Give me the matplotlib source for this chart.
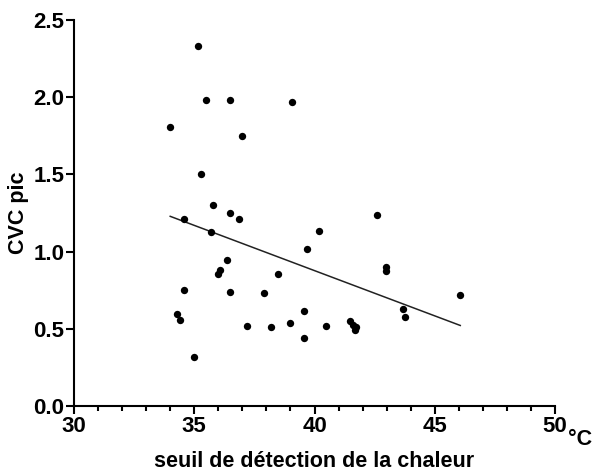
import matplotlib
matplotlib.use("Agg")
import matplotlib.pyplot as plt
from matplotlib.ticker import MultipleLocator
import numpy as np

# Données
seuil = [35.17, 35.49, 36.49, 39.08, 34.00, 36.99, 35.28, 35.78, 36.49, 36.88,
         34.59, 35.68, 36.38, 36.07, 35.97, 38.48, 34.59, 36.49, 37.88, 34.28,
         34.39, 37.18, 38.19, 38.98, 34.98, 42.58, 40.19, 39.69, 42.97, 42.97,
         46.06, 39.56, 40.49, 41.48, 41.58, 41.74, 41.68, 39.56, 43.68, 43.78]
cvc_pic = [2.33, 1.98, 1.98, 1.97, 1.81, 1.75, 1.50, 1.30, 1.25, 1.21,
           1.21, 1.13, 0.946, 0.88, 0.855, 0.853, 0.75, 0.74, 0.734, 0.596,
           0.555, 0.516, 0.51, 0.537, 0.317, 1.237, 1.135, 1.02, 0.90, 0.874,
           0.717, 0.617, 0.518, 0.553, 0.527, 0.512, 0.49, 0.443, 0.628, 0.574]

x = np.array(seuil)
y = np.array(cvc_pic)

# Régression linéaire
pente, ordonnee = np.polyfit(x, y, 1)
x_fit = np.array([x.min(), x.max()])

plt.rcParams["font.family"] = ["Liberation Sans", "DejaVu Sans"]

fig = plt.figure(figsize=(5.95, 4.71), dpi=100)
ax = fig.add_axes([0.1244, 0.138, 0.8084, 0.8195])

ax.scatter(x, y, s=28, color="black", zorder=3, linewidths=0)
ax.plot(x_fit, pente * x_fit + ordonnee, color="#222222", lw=1.1)

ax.set_xlim(30, 50)
ax.set_ylim(0, 2.5)
ax.xaxis.set_major_locator(MultipleLocator(5))
ax.xaxis.set_minor_locator(MultipleLocator(1))
ax.yaxis.set_major_locator(MultipleLocator(0.5))
ax.yaxis.set_major_formatter(plt.FormatStrFormatter("%.1f"))

for s in ["top", "right"]:
    ax.spines[s].set_visible(False)
for s in ["left", "bottom"]:
    ax.spines[s].set_linewidth(1.5)

ax.tick_params(axis="both", which="major", direction="out", length=6, width=1.5,
               labelsize=16, pad=1)
ax.tick_params(axis="x", which="minor", direction="out", length=3.5, width=1.5)
for lab in ax.get_xticklabels() + ax.get_yticklabels():
    lab.set_fontweight("bold")

ax.set_ylabel("CVC pic", fontsize=15.5, fontweight="bold", labelpad=3)
ax.set_xlabel("seuil de détection de la chaleur", fontsize=15.5, fontweight="bold", labelpad=10)
ax.text(1.028, -0.088, "°C", transform=ax.transAxes, fontsize=15.5, fontweight="bold",
        ha="left", va="center")

fig.savefig("out.png", dpi=100)
